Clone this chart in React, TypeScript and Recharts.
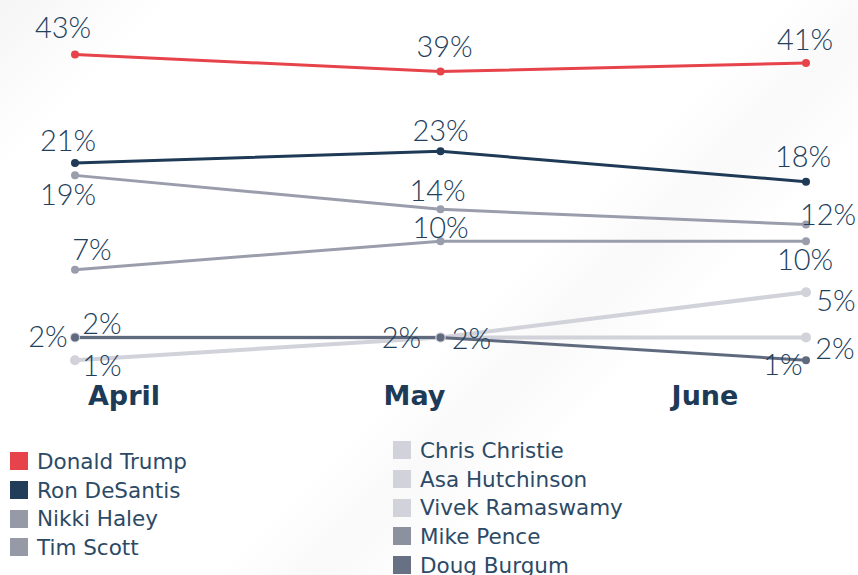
import React from 'react';
import { LineChart, Line, XAxis, YAxis, LabelList } from 'recharts';

// ---- data ----
const months = ['April', 'May', 'June'];
const trump = [43, 39, 41];
const desantis = [21, 23, 18];
const haley = [19, 14, 12];
const scott = [7, 10, 10];
const ramaswamy = [1, 2, 5];
const hutchinson = [2, 2, 2];
const burgum = [2, 2, 1];

const legendLeft = [
  { name: 'Donald Trump', color: '#e6434b' },
  { name: 'Ron DeSantis', color: '#213d5a' },
  { name: 'Nikki Haley', color: '#969aa7' },
  { name: 'Tim Scott', color: '#969aa7' },
];
const legendRight = [
  { name: 'Chris Christie', color: '#d1d2da' },
  { name: 'Asa Hutchinson', color: '#d1d2da' },
  { name: 'Vivek Ramaswamy', color: '#d1d2da' },
  { name: 'Mike Pence', color: '#8c91a0' },
  { name: 'Doug Burgum', color: '#687184' },
];

const data = months.map((m, i) => ({
  month: m,
  trump: trump[i],
  desantis: desantis[i],
  haley: haley[i],
  scott: scott[i],
  ramaswamy: ramaswamy[i],
  hutchinson: hutchinson[i],
  burgum: burgum[i],
}));

// ---- styling ----
const TEXT = '#22405c';
const LABEL_FONT = 'Lato, "DejaVu Sans", sans-serif';
const LEGEND_FONT = '"DejaVu Sans", sans-serif';

type Off = [number, number] | null;
const series: { key: string; color: string; width: number; r: number; offsets: Off[] }[] = [
  { key: 'hutchinson', color: '#d1d2da', width: 4, r: 5, offsets: [[27, -15], null, [29, 10]] },
  { key: 'ramaswamy', color: '#d1d2da', width: 4, r: 5, offsets: [[27, 4], [-39, -1], [30, 7]] },
  { key: 'burgum', color: '#5f6a7e', width: 3, r: 4, offsets: [[-27, -2], [31, 0], [-23, 3]] },
  { key: 'scott', color: '#9a9dab', width: 3, r: 4, offsets: [[17, -21], [0, -15], [-1, 17]] },
  { key: 'haley', color: '#9a9dab', width: 3, r: 4, offsets: [[-7, 18], [-3, -20], [22, -11]] },
  { key: 'desantis', color: '#1f3a56', width: 3, r: 4, offsets: [[-7, -24], [0, -22], [-3, -26]] },
  { key: 'trump', color: '#e6434b', width: 3, r: 4, offsets: [[-12, -28], [4, -26], [-1, -24]] },
];

const makeLabel = (offsets: Off[]) => (props: any) => {
  const { x, y, value, index } = props;
  const off = offsets[index];
  if (!off || value == null) return null;
  return (
    <text
      x={x + off[0]}
      y={y + off[1]}
      textAnchor="middle"
      dominantBaseline="central"
      fontSize={29}
      fontWeight={300}
      fontFamily={LABEL_FONT}
      fill={TEXT}
    >
      {value}%
    </text>
  );
};

const LegendCol = ({ items, left, top }: { items: { name: string; color: string }[]; left: number; top: number }) => (
  <div style={{ position: 'absolute', left, top }}>
    {items.map((it) => (
      <div key={it.name} style={{ display: 'flex', alignItems: 'center', height: 28.7 }}>
        <div style={{ width: 18, height: 18, background: it.color, marginRight: 9 }} />
        <span style={{ fontFamily: LEGEND_FONT, fontSize: 21.5, color: '#2c4a66', fontWeight: 400, whiteSpace: 'nowrap' }}>
          {it.name}
        </span>
      </div>
    ))}
  </div>
);

export default function App() {
  return (
    <div
      style={{
        position: 'absolute',
        left: 0,
        top: 0,
        width: 858,
        height: 575,
        overflow: 'hidden',
        background:
          'linear-gradient(135deg, #f5f5f6 0%, #ffffff 12%, #ffffff 55%, #f9f9fa 62%, #ffffff 70%, #ffffff 100%)',
      }}
    >
      <LineChart width={858} height={430} data={data} margin={{ top: 40, right: 0, left: 23, bottom: 0 }}>
        <YAxis hide type="number" scale="sqrt" domain={[0.8, 46.5]} allowDataOverflow />
        <XAxis
          dataKey="month"
          type="category"
          height={0}
          tick={false}
          tickLine={false}
          axisLine={{ stroke: '#c4c4c8', strokeWidth: 1.5 }}
          padding={{ left: 52, right: 52 }}
        />
        <XAxis
          xAxisId="labels"
          dataKey="month"
          type="category"
          height={64}
          axisLine={false}
          tickLine={false}
          tickSize={0}
          tickMargin={20}
          padding={{ left: 101, right: 153 }}
          tick={{ fontSize: 27, fontWeight: 700, fill: '#1d3a57', fontFamily: '"DejaVu Sans", sans-serif' }}
          interval={0}
        />
        {series.map((s) => (
          <Line
            key={s.key}
            dataKey={s.key}
            stroke={s.color}
            strokeWidth={s.width}
            dot={{ r: s.r, fill: s.color, stroke: s.color, strokeWidth: 0 }}
            activeDot={false}
            isAnimationActive={false}
            type="linear"
          >
            <LabelList dataKey={s.key} content={makeLabel(s.offsets)} />
          </Line>
        ))}
      </LineChart>
      <LegendCol items={legendLeft} left={10} top={447} />
      <LegendCol items={legendRight} left={393} top={436} />
    </div>
  );
}
